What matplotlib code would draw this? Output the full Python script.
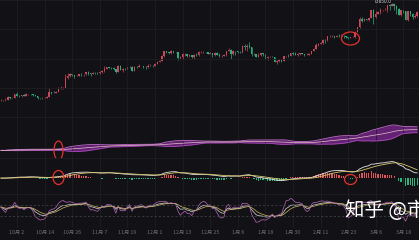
import numpy as np
import pandas as pd
import matplotlib
matplotlib.use("Agg")
import matplotlib.pyplot as plt
import matplotlib.dates as mdates
from matplotlib.path import Path
from matplotlib.transforms import Affine2D
from matplotlib.lines import Line2D

plt.rcParams['font.family'] = ['Noto Sans CJK SC', 'DejaVu Sans']

# daily closes, 2023-09-25 .. 2024-03-24
close_sep = [26300, 26210, 26350, 27020, 26910, 26970]
close_oct = [27990, 27500, 27430, 27790, 27410, 27930, 27960, 27930, 27590, 27390,
             26870, 26760, 26860, 26870, 27160, 28520, 28410, 28330, 28720, 29680,
             29910, 29990, 33090, 33900, 34500, 34160, 33910, 34090, 34540, 34490,
             34640]
close_nov = [35420, 34940, 34730, 35080, 35050, 35040, 35430, 35650, 36690, 37310,
             37130, 37070, 36500, 35540, 37880, 36150, 36600, 36590, 37390, 37480,
             35810, 37420, 37290, 37720, 37800, 37480, 37250, 37830, 37860, 37720]
close_dec = [38690, 39460, 39970, 41990, 44080, 43770, 43290, 44170, 43720, 43790,
             41240, 41450, 42890, 43020, 41930, 42240, 41360, 42660, 42260, 43650,
             43860, 43980, 43700, 43020, 43580, 42520, 43440, 42580, 42070, 42140,
             42280]
close_jan = [44180, 44950, 42850, 44180, 44160, 43970, 43930, 46970, 46120, 46650,
             46340, 42780, 42840, 41730, 42510, 43150, 42740, 41260, 41620, 41660,
             41570, 39510, 39850, 40080, 39930, 41820, 42120, 42030, 43300, 42940,
             42580]
close_feb = [43080, 43190, 42990, 42580, 42660, 43090, 44330, 45300, 47150, 47770,
             48290, 49950, 49730, 51830, 51940, 52160, 51660, 52120, 51780, 52280,
             51840, 51300, 50730, 51570, 51730, 54520, 57090, 62500, 61200]
close_mar = [62430, 62030, 63170, 68330, 63800, 66110, 66930, 68300, 68500, 69020,
             72120, 71480, 73100, 71400, 69400, 65300, 68400, 67600, 61900, 67900,
             65500, 63800, 64100, 67200]

high_sep = [26430, 26390, 26820, 27310, 27220, 27090]
high_oct = [28050, 28580, 27670, 27830, 28120, 28240, 28030, 28080, 27990, 27720,
            27480, 26940, 27090, 26980, 27290, 30000, 28610, 28930, 28890, 30200,
            30340, 30180, 34740, 35200, 35140, 34840, 34460, 34470, 34730, 34850,
            34720]
high_nov = [35560, 35980, 34940, 35270, 35380, 35270, 35890, 36000, 37920, 37520,
            37400, 37230, 37430, 36760, 37960, 37980, 36850, 36850, 37480, 37750,
            37880, 37850, 37640, 38420, 37890, 37830, 37610, 38390, 38420, 38150]
high_dec = [38950, 39690, 40190, 42410, 44490, 44300, 44040, 44700, 44390, 44040,
            43780, 42080, 43430, 43420, 43080, 42700, 42430, 42770, 43460, 44260,
            44270, 44390, 44010, 43940, 43800, 43590, 43780, 43720, 43230, 42630,
            42900]
high_jan = [44200, 45880, 45500, 44760, 44320, 44200, 44480, 47220, 47880, 47690,
            48970, 46480, 43220, 43070, 43320, 43560, 43170, 42920, 42190, 41870,
            41880, 41680, 40120, 40480, 40280, 42190, 42200, 42800, 43330, 43850,
            43730]
high_feb = [43290, 43480, 43380, 43110, 43490, 43400, 44380, 45580, 48170, 48140,
            48580, 50330, 50370, 52020, 52820, 52580, 52200, 52340, 52960, 53000,
            52360, 52000, 51530, 51720, 51960, 54900, 57500, 63910, 63600]
high_mar = [63200, 62500, 63250, 68500, 69200, 67700, 67900, 69900, 68900, 70000,
            72800, 72900, 73650, 73850, 72400, 70000, 68900, 68900, 68100, 68100,
            68200, 66600, 65900, 67600]

low_sep = [26010, 26090, 26110, 26340, 26670, 26880]
low_oct = [26940, 27330, 27160, 27210, 27370, 27340, 27840, 27720, 27280, 27290,
           26560, 26560, 26680, 26810, 26840, 27130, 28110, 28170, 28200, 28620,
           29490, 29660, 29890, 32880, 33690, 33850, 33350, 33890, 33940, 34070,
           34060]
low_nov = [34120, 34360, 34100, 34580, 34530, 34740, 34530, 35120, 35560, 36380,
           36770, 36710, 36340, 34940, 35370, 35990, 35500, 36280, 36380, 36820,
           35630, 35730, 36860, 37260, 37600, 37150, 36700, 36870, 37600, 37520]
low_dec = [37630, 38650, 39300, 39960, 41420, 43340, 42830, 43080, 43590, 43580,
           40230, 40680, 40650, 41810, 41680, 41760, 41250, 40560, 41820, 42210,
           43350, 43440, 43450, 42820, 42780, 41680, 42120, 42320, 41470, 41600,
           41990]
low_jan = [42200, 44150, 40800, 42650, 42640, 43430, 43600, 43200, 45000, 44410,
           45630, 41800, 42460, 41730, 41720, 42050, 42200, 40600, 40290, 41460,
           41500, 39430, 38500, 39480, 39510, 39820, 41390, 41620, 41800, 42680,
           42300]
low_feb = [41880, 42590, 42880, 42220, 42260, 42580, 42790, 44330, 45250, 46880,
           47720, 47710, 48330, 49290, 51330, 51560, 50680, 51190, 51460, 50650,
           50650, 50950, 50520, 50700, 51300, 50900, 54480, 56700, 60400]
low_mar = [60800, 61680, 61300, 62800, 59200, 62900, 65600, 66100, 68100, 68300,
           67200, 68800, 71300, 68800, 65600, 64800, 64600, 66600, 61600, 60800,
           64500, 62300, 63200, 63800]

first_open = 26250
tick_dates = pd.date_range("2023-10-02", "2024-03-18", freq="12D")
peak_label = "73850.0"
watermark = "知乎 @市场"

close = pd.Series(close_sep + close_oct + close_nov + close_dec + close_jan + close_feb + close_mar, dtype=float)
high = np.array(high_sep + high_oct + high_nov + high_dec + high_jan + high_feb + high_mar, dtype=float)
low = np.array(low_sep + low_oct + low_nov + low_dec + low_jan + low_feb + low_mar, dtype=float)
dates = pd.date_range("2023-09-25", periods=len(close), freq="D")
x = mdates.date2num(dates)
opn = np.concatenate([[first_open], close.values[:-1]])
high = np.maximum(high, np.maximum(opn, close.values))
low = np.minimum(low, np.minimum(opn, close.values))

# indicators: BOLL(20,2), MACD(12,26,9), KDJ(9,3,3)
mid = close.rolling(20, min_periods=1).mean()
sd = close.rolling(20, min_periods=1).std(ddof=0)
upper = mid + 2 * sd
lower = mid - 2 * sd
dif = close.ewm(span=12, adjust=False).mean() - close.ewm(span=26, adjust=False).mean()
dea = dif.ewm(span=9, adjust=False).mean()
hist = 2 * (dif - dea)
llv = pd.Series(low).rolling(9, min_periods=1).min()
hhv = pd.Series(high).rolling(9, min_periods=1).max()
rsv = (close - llv) / (hhv - llv) * 100
k = rsv.ewm(alpha=1 / 3, adjust=False).mean()
d = k.ewm(alpha=1 / 3, adjust=False).mean()
j = 3 * k - 2 * d

BG = "#121216"
UP = "#c8485a"
DN = "#26b07f"
GRID = "#1d1d23"
RING = "#e3312c"

W, H = 419, 240
fig = plt.figure(figsize=(W / 100, H / 100), dpi=100, facecolor=BG)


def panel(top, bottom):
    return fig.add_axes([0, 1 - bottom / H, 1, (bottom - top) / H])


ax1 = panel(0, 117)
ax2 = panel(117, 158)
ax3 = panel(158, 194)
ax4 = panel(194, 228)
xl = (x[0] - 0.39, x[0] + 181.8)
for ax in (ax1, ax2, ax3, ax4):
    ax.set_facecolor(BG)
    for s in ax.spines.values():
        s.set_visible(False)
    ax.set_xlim(xl)
    ax.set_xticks(mdates.date2num(tick_dates))
    ax.grid(axis="x", color=GRID, lw=0.6)
    ax.tick_params(length=0, labelbottom=False, left=False, labelleft=False)
    ax.add_line(Line2D([0, 1], [1, 1], transform=ax.transAxes, color=GRID, lw=0.6))

# candles
cols = np.where(close.values >= opn, UP, DN)
ax1.set_yscale("log")
ax1.vlines(x, low, high, colors=cols, lw=0.5)
ax1.bar(x, np.abs(close.values - opn), bottom=np.minimum(close.values, opn),
        width=0.65, color=cols, lw=0)
ax1.set_ylim(21900, 76400)
ax1.yaxis.set_minor_locator(matplotlib.ticker.NullLocator())
for f in (0.25, 0.5, 0.75):
    ax1.add_line(Line2D([0, 1], [f, f], transform=ax1.transAxes, color=GRID, lw=0.6))
ipk = int(np.argmax(high))
ax1.annotate(peak_label, xy=(x[ipk], high[ipk]), xytext=(-2, 1), textcoords="offset points",
             ha="right", va="center", fontsize=3.5, color="#d0d0d0")

# bollinger panel
ax2.fill_between(x, lower, upper, color="#6e2480", alpha=0.9, lw=0)
ax2.plot(x, upper, color="#c46ccc", lw=0.6)
ax2.plot(x, lower, color="#a54ab3", lw=0.6)
ax2.plot(x, mid, color="#e6c2c8", lw=0.5)
ax2.set_ylim(11000, 93000)

# macd panel
ax3.bar(x, hist, width=0.55, color=np.where(hist >= 0, "#e0555a", "#2cb57f"), lw=0)
ax3.plot(x, dif, color="#e6e6e6", lw=0.6)
ax3.plot(x, dea, color="#d6c36a", lw=0.6)
ax3.set_ylim(-5300, 6700)

# kdj panel
ax4.plot(x, k, color="#dcdcdc", lw=0.5)
ax4.plot(x, d, color="#cdb863", lw=0.5)
ax4.plot(x, j, color="#b868b8", lw=0.5)
for lv in (80, 20):
    ax4.axhline(lv, color="#4a4a52", lw=0.5, ls=(0, (3, 3)))
ax4.set_ylim(-45, 140)
ax4.tick_params(labelbottom=True, labelsize=3.8, labelcolor="#6c6c74", pad=1.5)
ax4.set_xticklabels([f"{t.month}月 {t.day}" for t in tick_dates])


def ring(ax, xi, yv, w, h):
    p = Affine2D().scale(w, h).transform_path(Path.unit_circle())
    ax.plot(xi, yv, marker=p, ms=max(w, h) / 1.389, mfc="none", mec=RING, mew=0.9)


i_feb24 = list(dates).index(pd.Timestamp("2024-02-24"))
i_oct20 = list(dates).index(pd.Timestamp("2023-10-20"))
ring(ax1, x[i_feb24], low[i_feb24], 18, 13)
ring(ax2, x[i_oct20], mid[i_oct20], 9, 19)
ring(ax3, x[i_oct20], dif[i_oct20], 11, 14)
ring(ax3, x[i_feb24], hist[i_feb24], 12, 10)

# watermark runs off the right edge, as in the source screenshot
fig.text(345 / W, 1 - 210 / H, watermark, fontsize=14, color="white", va="center", ha="left")

fig.savefig("out.png", dpi=100, facecolor=BG)
